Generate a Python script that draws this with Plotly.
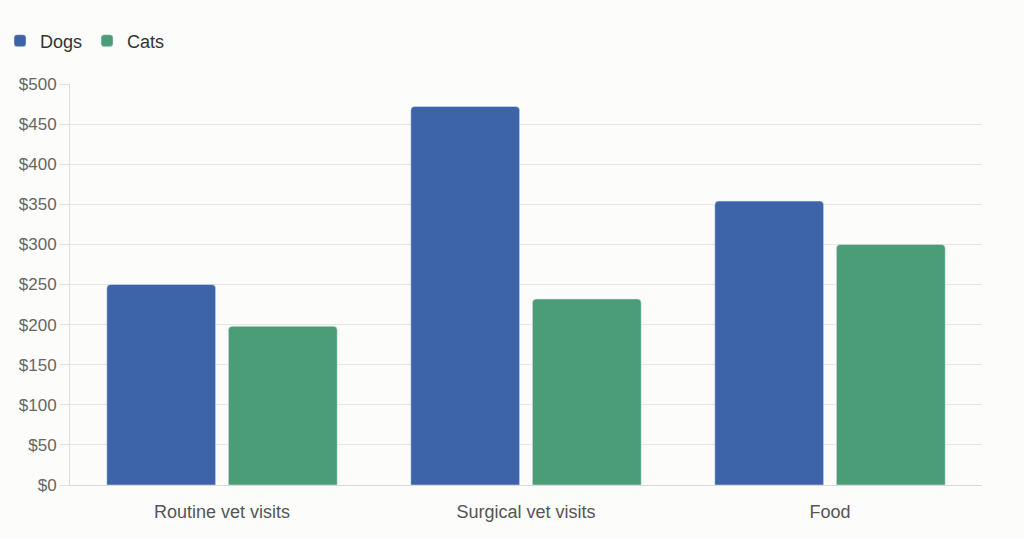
import plotly.graph_objects as go

categories = ["Routine vet visits", "Surgical vet visits", "Food"]
dogs = [250, 472, 354]
cats = [198, 232, 300]
tick_vals = [0, 50, 100, 150, 200, 250, 300, 350, 400, 450, 500]
tick_text = ["$" + str(v) for v in tick_vals]

fig = go.Figure()
fig.add_trace(go.Bar(name="Dogs", x=categories, y=dogs, marker_color="#3d63a8"))
fig.add_trace(go.Bar(name="Cats", x=categories, y=cats, marker_color="#4a9d77"))

fig.update_layout(
    width=1024, height=538,
    margin=dict(l=70, r=42, t=84, b=53),
    paper_bgcolor="#fcfcfb", plot_bgcolor="#fcfcfb",
    barmode="group", bargap=0.2, bargroupgap=0.105,
    barcornerradius=4,
    font=dict(family="Liberation Sans, Arial, sans-serif", color="#555"),
    showlegend=True,
    legend=dict(orientation="h", xref="container", yref="container",
                x=-0.005, y=1 - 41 / 538, xanchor="left", yanchor="middle",
                font=dict(size=18, color="#333"), bgcolor="rgba(0,0,0,0)",
                itemwidth=30, traceorder="normal"),
    xaxis=dict(showline=True, linecolor="#d9d9d9", linewidth=1, ticks="",
               ticklabelstandoff=10,
               tickfont=dict(size=18, color="#555"), showgrid=False),
    yaxis=dict(range=[0, 500], tickvals=tick_vals, ticktext=tick_text,
               showgrid=True, gridcolor="#e6e6e6", gridwidth=1,
               showline=True, linecolor="#e0e0e0", ticks="outside",
               ticklen=9, tickcolor="#e0e0e0",
               tickfont=dict(size=17, color="#666"), zeroline=False),
)

fig.write_html("out.html")
